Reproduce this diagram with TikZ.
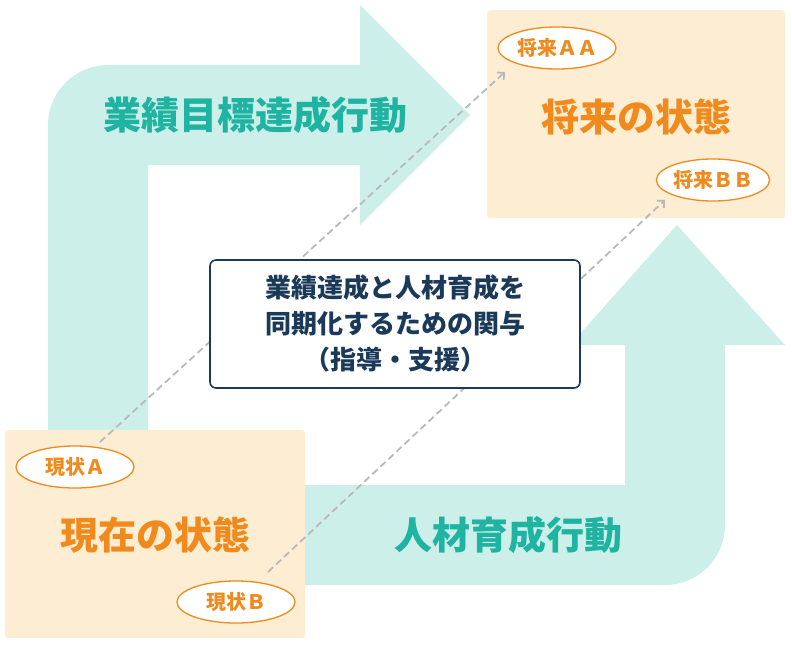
\documentclass[tikz,border=0pt]{standalone}
\usepackage{fontspec}
\setmainfont{Noto Sans CJK JP}
\usetikzlibrary{arrows.meta,shapes.geometric}
\definecolor{tealbg}{HTML}{CDEFEA}
\definecolor{tealtx}{HTML}{1FB3A1}
\definecolor{orbox}{HTML}{FDEDD2}
\definecolor{ortx}{HTML}{F08A1C}
\definecolor{navy}{HTML}{1B3A5A}
\tikzset{
 stbox/.style={fill=orbox,draw=none,rounded corners=3pt},
 oval/.style={ellipse,draw=ortx,line width=1.3pt,fill=white,text=ortx,font=\bfseries\fontsize{20}{22}\selectfont,minimum width=#1,minimum height=42pt,inner sep=0pt},
 big/.style={font=\bfseries\fontsize{38}{42}\selectfont},
 dashline/.style={draw=gray!55,line width=1.8pt,dash pattern=on 7pt off 4pt,-{Straight Barb[length=5pt]}},
}
\begin{document}
\begin{tikzpicture}[x=1pt,y=-1pt]
\useasboundingbox (0,0) rectangle (792,650);
\fill[tealbg] (48,440) -- (48,125) arc[start angle=180,end angle=270,radius=60] -- (360,65) -- (360,5) -- (470,115) -- (360,225) -- (360,165) -- (148,165) -- (148,440) -- cycle;
\fill[tealbg] (300,485) -- (625,485) -- (625,345) -- (570,345) -- (677,225) -- (785,345) -- (725,345) -- (725,525) arc[start angle=0,end angle=90,radius=60] -- (300,585) -- cycle;
\node[stbox,minimum width=298pt,minimum height=208pt,anchor=north west] (fut) at (487,10) {};
\node[stbox,minimum width=300pt,minimum height=208pt,anchor=north west] (cur) at (5,430) {};
\node[text=tealtx,big] (t1) at (255,115) {業績目標達成行動};
\node[text=tealtx,big] (t2) at (508,535) {人材育成行動};
\node[text=ortx,big] (f) at (636,117) {将来の状態};
\node[text=ortx,big] (c) at (155,535) {現在の状態};
\node[oval=118pt] (aa) at (557,48) {将来ＡＡ};
\node[oval=112pt] (bb) at (713,180) {将来ＢＢ};
\node[oval=118pt] (a) at (75,467) {現状Ａ};
\node[oval=118pt] (b) at (236,602) {現状Ｂ};
\coordinate (ea) at (505,72);
\coordinate (eb) at (665,200);
\coordinate (sa) at (100,442);
\coordinate (sb) at (268,572);
\draw[dashline] (sa) -- (ea);
\draw[dashline] (sb) -- (eb);
\node[draw=navy,line width=1.6pt,rounded corners=6pt,fill=white,text=navy,font=\bfseries\fontsize{26}{36}\selectfont,align=center,minimum width=370pt,minimum height=128pt,inner sep=0pt] (m) at (395,324) {業績達成と人材育成を\\同期化するための関与\\（指導・支援）};
\end{tikzpicture}
\end{document}
